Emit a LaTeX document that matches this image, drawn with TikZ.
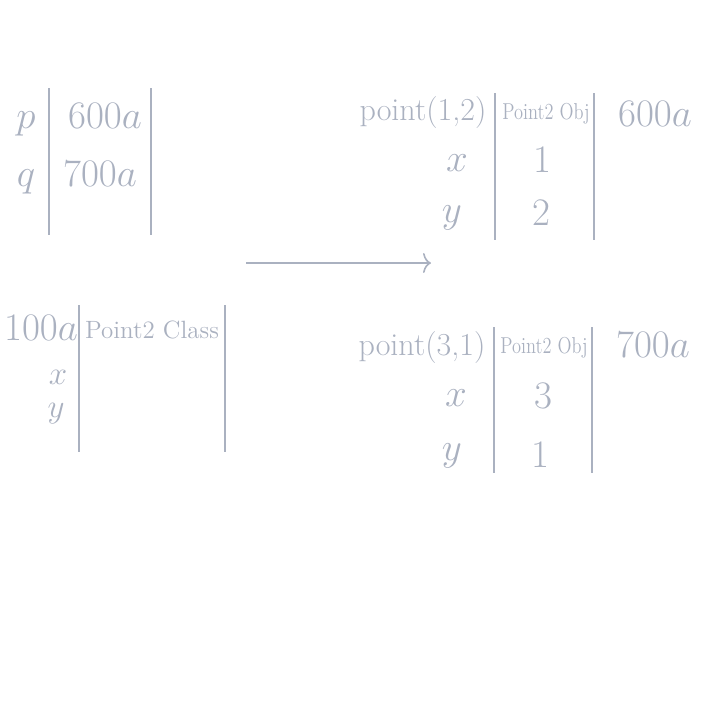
\RequirePackage{fix-cm}
\documentclass[tikz,border=0pt]{standalone}
\usetikzlibrary{arrows.meta}
\definecolor{memgray}{RGB}{170,177,192}
\newcommand{\objtag}{\scalebox{0.8}[1]{Point2 Obj}}

\begin{document}
\begin{tikzpicture}[
  x=0.5pt, y=-0.5pt,
  every node/.style={inner sep=0pt, text=memgray}
]
\tikzstyle{big}=[font=\fontsize{19.5}{22}\selectfont, anchor=base]
\tikzstyle{mid}=[font=\fontsize{16.5}{19}\selectfont, anchor=base]
\tikzstyle{call}=[font=\fontsize{16}{19}\selectfont, anchor=base]
\tikzstyle{tag}=[font=\fontsize{11.5}{13}\selectfont, anchor=base]
\tikzstyle{cls}=[font=\fontsize{12.5}{14}\selectfont, anchor=base]
\tikzstyle{wall}=[draw=memgray, line width=0.8pt]

\useasboundingbox (0,0) rectangle (709,709);

% stack frame
\node[big] (p) at (26,128) {$p$};
\node[big] (q) at (26,186) {$q$};
\node[big] (pval) at (105,128) {$600a$};
\node[big] (qval) at (100,186) {$700a$};
\draw[wall] (49,88) -- (49,235);
\draw[wall] (151,88) -- (151,235);

% class object
\node[big] (clsaddr) at (41,340) {$100a$};
\node[cls] (cls) at (152,338) {Point2 Class};
\node[mid] (clsx) at (58,384) {$x$};
\node[mid] (clsy) at (56,417) {$y$};
\draw[wall] (79,305) -- (79,452);
\draw[wall] (225,305) -- (225,452);

% first instance
\node[call] (objA) at (423,120) {point(1,2)};
\node[tag] (tagA) at (546,119) {\objtag};
\node[big] (addrA) at (655,126) {$600a$};
\node[big] (xA) at (457,171) {$x$};
\node[big] (xAval) at (542,172) {$1$};
\node[big] (yA) at (452,222) {$y$};
\node[big] (yAval) at (541,225) {$2$};
\draw[wall] (495,93) -- (495,240);
\draw[wall] (594,93) -- (594,240);

% second instance
\node[call] (objB) at (422,355) {point(3,1)};
\node[tag] (tagB) at (544,353) {\objtag};
\node[big] (addrB) at (653,357) {$700a$};
\node[big] (xB) at (456,406) {$x$};
\node[big] (xBval) at (543,408) {$3$};
\node[big] (yB) at (452,460) {$y$};
\node[big] (yBval) at (540,467) {$1$};
\draw[wall] (494,327) -- (494,473);
\draw[wall] (592,327) -- (592,473);

% arrow
\coordinate (from) at (246,263);
\coordinate (to) at (431,263);
\draw[wall, -{To[length=4pt,width=10pt]}] (from) -- (to);
\end{tikzpicture}
\end{document}
